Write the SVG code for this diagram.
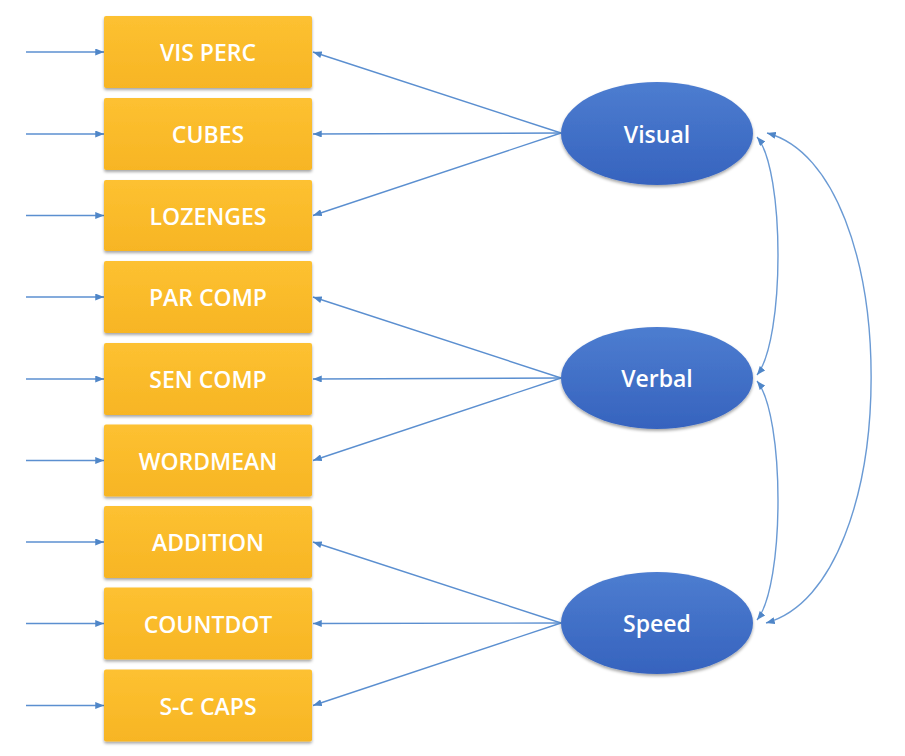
<svg xmlns="http://www.w3.org/2000/svg" width="905" height="756" viewBox="0 0 905 756">
<defs>
<linearGradient id="gBox" x1="0" y1="0" x2="0" y2="1">
<stop offset="0" stop-color="#FDC131"/>
<stop offset="1" stop-color="#F7B524"/>
</linearGradient>
<linearGradient id="gEll" x1="0" y1="0" x2="0" y2="1">
<stop offset="0" stop-color="#4D7DD0"/>
<stop offset="1" stop-color="#3663BE"/>
</linearGradient>
<filter id="sh" x="-10%" y="-10%" width="120%" height="130%">
<feDropShadow dx="0" dy="2" stdDeviation="1.5" flood-color="#000" flood-opacity="0.35"/>
</filter>
<marker id="ah" viewBox="0 0 10 8" refX="10" refY="4" markerWidth="9" markerHeight="7" markerUnits="userSpaceOnUse" orient="auto-start-reverse">
<path d="M0,0 L10,4 L0,8 Z" fill="#4F86C8"/>
</marker>
</defs>
<style>
.box{fill:url(#gBox);filter:url(#sh)}
.ell{fill:url(#gEll);filter:url(#sh)}
.lbl{font-family:"Open Sans","Liberation Sans",sans-serif;font-weight:600;font-size:23px;fill:#FFFFFF;text-anchor:middle;dominant-baseline:central}
.con{stroke:#5B8FD0;stroke-width:1.4;fill:none;marker-end:url(#ah)}
.cov{stroke:#6A9AD4;stroke-width:1.4;fill:none;marker-start:url(#ah);marker-end:url(#ah)}
</style>
<rect width="905" height="756" fill="#FFFFFF"/>
<g id="connectors">
<line class="con" x1="26" y1="52" x2="104" y2="52"/>
<line class="con" x1="26" y1="134" x2="104" y2="134"/>
<line class="con" x1="26" y1="215.5" x2="104" y2="215.5"/>
<line class="con" x1="26" y1="297" x2="104" y2="297"/>
<line class="con" x1="26" y1="379" x2="104" y2="379"/>
<line class="con" x1="26" y1="460.5" x2="104" y2="460.5"/>
<line class="con" x1="26" y1="542" x2="104" y2="542"/>
<line class="con" x1="26" y1="623.5" x2="104" y2="623.5"/>
<line class="con" x1="26" y1="705.5" x2="104" y2="705.5"/>
<line class="con" x1="561" y1="133" x2="313" y2="52"/>
<line class="con" x1="561" y1="133" x2="313" y2="134"/>
<line class="con" x1="561" y1="133" x2="313" y2="215.5"/>
<line class="con" x1="561" y1="378" x2="313" y2="297"/>
<line class="con" x1="561" y1="378" x2="313" y2="379"/>
<line class="con" x1="561" y1="378" x2="313" y2="460.5"/>
<line class="con" x1="561" y1="623" x2="313" y2="542"/>
<line class="con" x1="561" y1="623" x2="313" y2="623.5"/>
<line class="con" x1="561" y1="623" x2="313" y2="705.5"/>
<path class="cov" d="M757,137 C785,170 785,340 757,375"/>
<path class="cov" d="M757,381 C785,416 785,585 757,620"/>
<path class="cov" d="M767,133 C906,170 906,585 766,623"/>
</g>
<g id="n-visperc"><rect class="box" x="104" y="16" width="208" height="72" rx="2"/><text class="lbl" x="208" y="52">VIS PERC</text></g>
<g id="n-cubes"><rect class="box" x="104" y="98" width="208" height="72" rx="2"/><text class="lbl" x="208" y="134">CUBES</text></g>
<g id="n-lozenges"><rect class="box" x="104" y="180" width="208" height="71" rx="2"/><text class="lbl" x="208" y="215.5">LOZENGES</text></g>
<g id="n-parcomp"><rect class="box" x="104" y="261" width="208" height="72" rx="2"/><text class="lbl" x="208" y="297">PAR COMP</text></g>
<g id="n-sencomp"><rect class="box" x="104" y="343" width="208" height="72" rx="2"/><text class="lbl" x="208" y="379">SEN COMP</text></g>
<g id="n-wordmean"><rect class="box" x="104" y="424.5" width="208" height="72" rx="2"/><text class="lbl" x="208" y="460.5">WORDMEAN</text></g>
<g id="n-addition"><rect class="box" x="104" y="506" width="208" height="72" rx="2"/><text class="lbl" x="208" y="542">ADDITION</text></g>
<g id="n-countdot"><rect class="box" x="104" y="587.5" width="208" height="72" rx="2"/><text class="lbl" x="208" y="623.5">COUNTDOT</text></g>
<g id="n-sccaps"><rect class="box" x="104" y="669.5" width="208" height="72" rx="2"/><text class="lbl" x="208" y="705.5">S-C CAPS</text></g>
<g id="n-visual"><ellipse class="ell" cx="657" cy="133.5" rx="96" ry="51.5"/><text class="lbl" x="657" y="133.5">Visual</text></g>
<g id="n-verbal"><ellipse class="ell" cx="657" cy="378" rx="96" ry="51"/><text class="lbl" x="657" y="378">Verbal</text></g>
<g id="n-speed"><ellipse class="ell" cx="657" cy="623" rx="96" ry="51"/><text class="lbl" x="657" y="623">Speed</text></g>
</svg>
